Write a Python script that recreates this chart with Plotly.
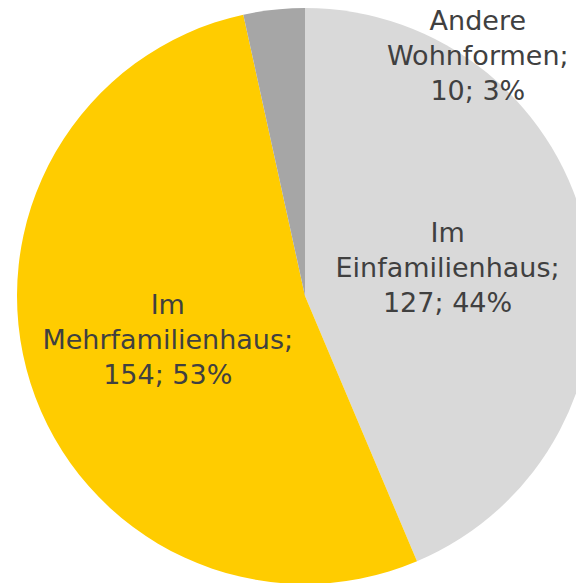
import plotly.graph_objects as go

categories = ["Im Einfamilienhaus", "Im Mehrfamilienhaus", "Andere Wohnformen"]
label_lines = ["Im<br>Einfamilienhaus;", "Im<br>Mehrfamilienhaus;", "Andere<br>Wohnformen;"]
values = [127, 154, 10]
colors = ["#D9D9D9", "#FFCC00", "#A6A6A6"]

total = sum(values)
texts = [f"{l}<br>{v}; {round(v / total * 100)}%" for l, v in zip(label_lines, values)]

font = dict(family="DejaVu Sans", size=27, color="#404040")

fig = go.Figure(
    go.Pie(
        labels=categories,
        values=values,
        marker=dict(colors=colors, line=dict(width=0)),
        text=[texts[0], texts[1], ""],
        textinfo="text",
        textposition=["inside", "inside", "none"],
        insidetextorientation="horizontal",
        textfont=font,
        sort=False,
        direction="clockwise",
        rotation=0,
        showlegend=False,
        hoverinfo="label+value+percent",
    )
)

fig.add_annotation(
    x=0.80, y=0.918, xref="paper", yref="paper",
    xanchor="center", yanchor="middle",
    text=texts[2], showarrow=False,
    font=font,
    align="center",
)

fig.update_layout(
    width=610,
    height=600,
    margin=dict(l=17, r=17, t=8, b=16),
    paper_bgcolor="white",
    plot_bgcolor="white",
)

fig.write_html(
    "out.html",
    config={"displayModeBar": False},
    post_script="document.body.style.margin='0';document.body.style.overflow='hidden';",
)
